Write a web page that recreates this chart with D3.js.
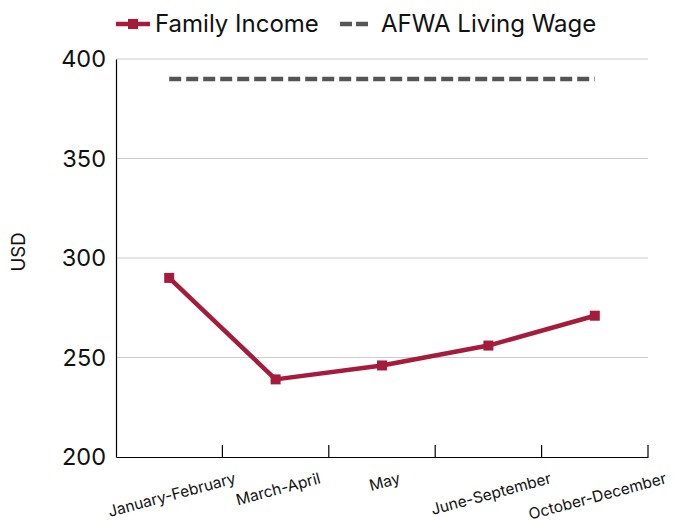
<!DOCTYPE html>
<html>
<head>
<meta charset="utf-8">
<script src="https://d3js.org/d3.v7.min.js"></script>
<style>
  body { margin: 0; background: #fff; }
  svg, svg text { font-family: "Inter", "Inter Variable", Roboto, "Open Sans", sans-serif !important; }
</style>
</head>
<body>
<svg id="chart" width="674" height="520"></svg>
<script>
// Data
const periods = ["January-February", "March-April", "May", "June-September", "October-December"];
const familyIncome = [290, 239, 246, 256, 271];
const livingWage = [390, 390, 390, 390, 390];
const yTicks = [200, 250, 300, 350, 400];

const width = 674;
const height = 520;
const margin = { top: 59, right: 26, bottom: 63, left: 116 };
const innerWidth = width - margin.left - margin.right;
const innerHeight = height - margin.top - margin.bottom;

const incomeColor = "#a61b3c";
const wageColor = "#555555";

const svg = d3.select("#chart");
const g = svg.append("g").attr("transform", `translate(${margin.left},${margin.top})`);

// Scales
const x = d3.scaleBand().domain(periods).range([0, innerWidth]);
const y = d3.scaleLinear().domain([200, 400]).range([innerHeight, 0]);
const cx = (d) => x(d) + x.bandwidth() / 2;

// Gridlines
g.append("g")
  .selectAll("line")
  .data(yTicks.filter((t) => t > 200))
  .enter()
  .append("line")
  .attr("x1", 0)
  .attr("x2", innerWidth)
  .attr("y1", (d) => y(d))
  .attr("y2", (d) => y(d))
  .attr("stroke", "#cccccc")
  .attr("stroke-width", 1);

// Y axis
const yAxis = g.append("g")
  .call(d3.axisLeft(y).tickValues(yTicks).tickSize(0).tickPadding(10))
  .attr("font-family", null);
yAxis.select(".domain").attr("stroke", "#000").attr("stroke-width", 1.2);
yAxis.selectAll("text")
  .attr("fill", "#111")
  .style("font-size", "23.5px");

// X axis
const xAxis = g.append("g")
  .attr("transform", `translate(0,${innerHeight})`)
  .call(d3.axisBottom(x).tickSize(0))
  .attr("font-family", null);
xAxis.select(".domain").attr("stroke", "#000").attr("stroke-width", 1.2);
xAxis.selectAll(".tick text").remove();
// tick marks at band boundaries
xAxis.selectAll(".bound")
  .data(periods)
  .enter()
  .append("line")
  .attr("x1", (d) => x(d) + x.bandwidth())
  .attr("x2", (d) => x(d) + x.bandwidth())
  .attr("y1", -12)
  .attr("y2", 0)
  .attr("stroke", "#000")
  .attr("stroke-width", 1.2);

// rotated labels: centred on the band, right end kept at a fixed height
const angle = 15;
const rad = (angle * Math.PI) / 180;
xAxis.selectAll(".lbl")
  .data(periods)
  .enter()
  .append("text")
  .attr("class", "lbl")
  .attr("text-anchor", "middle")
  .attr("fill", "#111")
  .style("font-size", "15.5px")
  .text((d) => d)
  .attr("transform", function (d) {
    const len = this.getComputedTextLength();
    return `translate(${cx(d) + 4},${26 + (len / 2) * Math.sin(rad)}) rotate(${-angle})`;
  });

// Y label
svg.append("text")
  .attr("transform", `translate(25,252) rotate(-90)`)
  .attr("text-anchor", "middle")
  .attr("fill", "#111")
  .style("font-size", "18.5px")
  .text("USD");

// Living wage line
g.append("path")
  .datum(livingWage)
  .attr("fill", "none")
  .attr("stroke", wageColor)
  .attr("stroke-width", 4.5)
  .attr("stroke-dasharray", "12,5")
  .attr("d", d3.line().x((d, i) => cx(periods[i])).y((d) => y(d)));

// Family income line
g.append("path")
  .datum(familyIncome)
  .attr("fill", "none")
  .attr("stroke", incomeColor)
  .attr("stroke-width", 4.5)
  .attr("stroke-linejoin", "round")
  .attr("d", d3.line().x((d, i) => cx(periods[i])).y((d) => y(d)));

g.selectAll(".marker")
  .data(familyIncome)
  .enter()
  .append("rect")
  .attr("class", "marker")
  .attr("x", (d, i) => cx(periods[i]) - 5)
  .attr("y", (d) => y(d) - 5)
  .attr("width", 10)
  .attr("height", 10)
  .attr("fill", incomeColor);

// Legend
const legend = svg.append("g");
legend.append("line")
  .attr("x1", 116).attr("x2", 150).attr("y1", 24).attr("y2", 24)
  .attr("stroke", incomeColor).attr("stroke-width", 4.5);
legend.append("rect")
  .attr("x", 128).attr("y", 19).attr("width", 10).attr("height", 10)
  .attr("fill", incomeColor);
legend.append("text")
  .attr("x", 155).attr("y", 32)
  .attr("fill", "#111")
  .style("font-size", "24px")
  .text("Family Income");
legend.append("line")
  .attr("x1", 340).attr("x2", 368).attr("y1", 24).attr("y2", 24)
  .attr("stroke", wageColor).attr("stroke-width", 4.5)
  .attr("stroke-dasharray", "12,4");
legend.append("text")
  .attr("x", 381).attr("y", 32)
  .attr("fill", "#111")
  .style("font-size", "24px")
  .text("AFWA Living Wage");
</script>
</body>
</html>
